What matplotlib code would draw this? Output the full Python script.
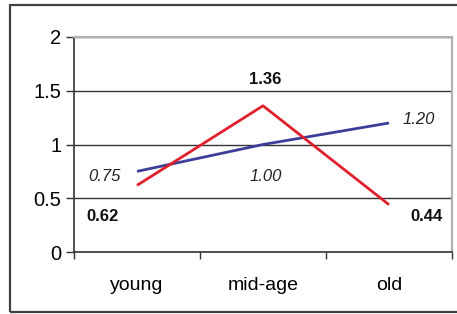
import matplotlib
matplotlib.use('Agg')
import matplotlib.pyplot as plt
import matplotlib.patches as mpatches

categories = ["young", "mid-age", "old"]
red_values = [0.62, 1.36, 0.44]
blue_values = [0.75, 1.00, 1.20]
y_ticks = [0, 0.5, 1, 1.5, 2]
y_tick_labels = ["0", "0.5", "1", "1.5", "2"]

plt.rcParams['font.family'] = ['Liberation Sans', 'DejaVu Sans']

W, H = 457, 314
fig = plt.figure(figsize=(W / 100, H / 100), dpi=100)

# marco exterior (el borde derecho queda fuera de la imagen)
marco = mpatches.Rectangle((10 / W, 2 / H), 1.2, (309 - 2) / H, transform=fig.transFigure,
                           fill=False, edgecolor='#404040', linewidth=1.6, clip_on=False)
fig.patches.append(marco)

ax = fig.add_axes([74 / W, (H - 252) / H, (452 - 74) / W, (252 - 37) / H])

x = list(range(len(categories)))
ax.plot(x, blue_values, color='#3b3f99', linewidth=2, solid_capstyle='butt', zorder=3)
ax.plot(x, red_values, color='#e0202c', linewidth=2, solid_capstyle='butt', zorder=4)

ax.set_xlim(-0.5, 2.5)
ax.set_ylim(0, 2)
ax.set_yticks(y_ticks)
ax.set_yticklabels(y_tick_labels)
ax.set_xticks([-0.5, 0.5, 1.5, 2.5])
ax.set_xticklabels([])
ax.set_xticks(x, minor=True)
ax.set_xticklabels(categories, minor=True)
ax.tick_params(axis='x', which='minor', length=0, pad=18, labelsize=14)
ax.tick_params(axis='x', which='major', length=5, width=1, color='#333333', direction='out')
ax.tick_params(axis='y', length=6, width=1, color='#333333', direction='out', pad=3, labelsize=14.5)

ax.grid(axis='y', color='#333333', linewidth=1)
ax.set_axisbelow(True)
for s in ['left', 'bottom']:
    ax.spines[s].set_color('#333333')
    ax.spines[s].set_linewidth(1.2)
for s in ['top', 'right']:
    ax.spines[s].set_color('#b0b0b0')
    ax.spines[s].set_linewidth(1.5)

# etiquetas de datos
red_pos = [(-0.27, 0.326), (1.02, 1.60), (2.30, 0.326)]
blue_pos = [(-0.26, 0.70), (1.02, 0.70), (2.24, 1.228)]
for (px, py), v in zip(red_pos, red_values):
    ax.text(px, py, "{:.2f}".format(v), ha='center', va='center', fontsize=12,
            fontweight='bold', color='#111111')
for (px, py), v in zip(blue_pos, blue_values):
    ax.text(px, py, "{:.2f}".format(v), ha='center', va='center', fontsize=12,
            fontstyle='italic', color='#222222')

plt.savefig("out.png", dpi=100)
plt.close()
